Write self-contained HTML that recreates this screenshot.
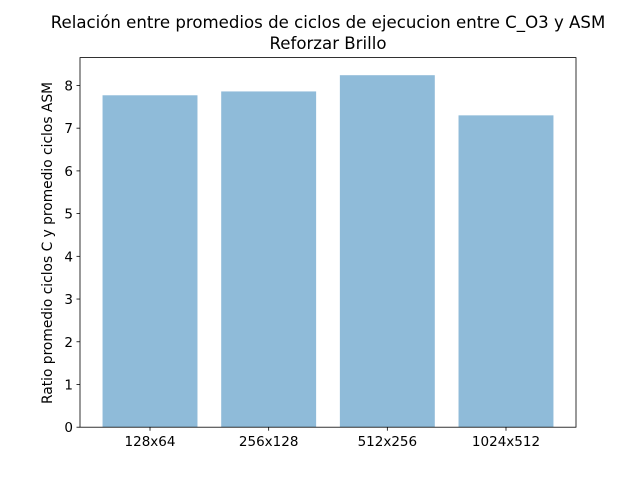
<!DOCTYPE html>
<html><head><meta charset="utf-8"><style>body{margin:0;background:#fff}svg{display:block;font-family:"DejaVu Sans","Liberation Sans",sans-serif}</style></head>
<body>
<svg id="chart" width="640" height="480">
<rect width="640" height="480" fill="#fff"/>
<text x="328" y="28" text-anchor="middle" font-size="16.6">Relación entre promedios de ciclos de ejecucion entre C_O3 y ASM</text>
<text x="328" y="49" text-anchor="middle" font-size="16.6">Reforzar Brillo</text>
<text transform="translate(52,243) rotate(-90)" text-anchor="middle" font-size="13.8">Ratio promedio ciclos C y promedio ciclos ASM</text>
<g id="bars"></g><g id="ticks"></g>
<rect x="80" y="57.6" width="496" height="369.6" fill="none" stroke="#000" stroke-width="0.8"/>
</svg>
<script>
const categories = ["128x64","256x128","512x256","1024x512"];
const values = [7.77, 7.86, 8.24, 7.30];
const yTicks = [0,1,2,3,4,5,6,7,8];
const L=80,R=576,T=57.6,B=427.2;
const ymax=Math.max(...values)*1.05;
const xmin=-0.59,xmax=categories.length-1+0.59;
const xs=v=>L+(v-xmin)/(xmax-xmin)*(R-L);
const ys=v=>B-v/ymax*(B-T);
const ns="http://www.w3.org/2000/svg";
const bars=document.getElementById('bars'),ticks=document.getElementById('ticks');
function mk(tag,attrs,parent){const e=document.createElementNS(ns,tag);for(const k in attrs)e.setAttribute(k,attrs[k]);parent.appendChild(e);return e;}
values.forEach((v,i)=>{
  const r=mk('rect',{x:xs(i-0.4),y:ys(v),width:xs(i+0.4)-xs(i-0.4),height:B-ys(v),fill:'#1f77b4','fill-opacity':0.5},bars);
  
  
  const t=mk('line',{x1:xs(i),x2:xs(i),y1:B,y2:B+3.5,stroke:'#000','stroke-width':0.8},ticks);
  
  
  const l=mk('text',{x:xs(i),y:B+19,'text-anchor':'middle','font-size':13.5},ticks);
  l.textContent=categories[i];
  
  
});
yTicks.forEach(v=>{
  const t=mk('line',{x1:L-3.5,x2:L,y1:ys(v),y2:ys(v),stroke:'#000','stroke-width':0.8},ticks);
  
  
  const l=mk('text',{x:L-7,y:ys(v)+5,'text-anchor':'end','font-size':13.5},ticks);
  l.textContent=v;
  
  
});
</script>
</body></html>
